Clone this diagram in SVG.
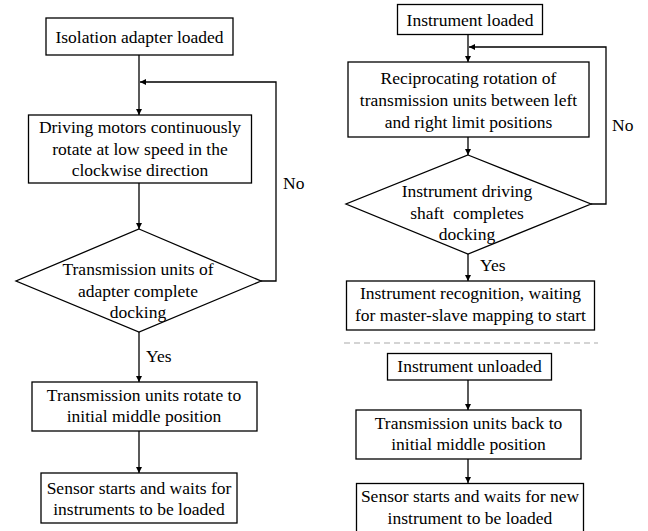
<svg xmlns="http://www.w3.org/2000/svg" width="648" height="531" viewBox="0 0 648 531">
<defs>
<marker id="ah" viewBox="0 0 10 10" refX="10" refY="5" markerWidth="6" markerHeight="6" markerUnits="userSpaceOnUse" orient="auto">
<path d="M0,0 L10,5 L0,10 Z" fill="#000"/>
</marker>
<style>
.box{fill:#fff;stroke:#000;stroke-width:1.3}
.t{font-family:'Liberation Serif','Times New Roman',serif;font-size:17.5px;fill:#000;text-anchor:middle}
.lbl{font-family:'Liberation Serif','Times New Roman',serif;font-size:17.5px;fill:#000}
.ca{fill:none;stroke:#000;stroke-width:1.3;marker-end:url(#ah)}
</style>
</defs>
<rect width="648" height="531" fill="#fff"/>
<g id="connectors">
<line class="ca" x1="139" y1="55" x2="139" y2="115"/>
<polyline class="ca" points="261,281 276,281 276,82 140,82"/>
<line class="ca" x1="139" y1="183" x2="139" y2="229"/>
<line class="ca" x1="139" y1="332" x2="139" y2="382"/>
<line class="ca" x1="139" y1="431" x2="139" y2="473"/>
<line class="ca" x1="468" y1="34" x2="468" y2="62"/>
<polyline class="ca" points="591,204 606,204 606,47 469,47"/>
<line class="ca" x1="468" y1="137" x2="468" y2="155"/>
<line class="ca" x1="468" y1="254" x2="468" y2="281"/>
<line class="ca" x1="468" y1="380" x2="468" y2="410"/>
<line class="ca" x1="468" y1="459" x2="468" y2="483"/>
<line x1="344" y1="343" x2="598" y2="343" stroke="#aaa" stroke-width="1.2" stroke-dasharray="6,4"/>
<text class="lbl" x="283" y="189">No</text>
<text class="lbl" x="146" y="362">Yes</text>
<text class="lbl" x="612" y="131">No</text>
<text class="lbl" x="480" y="271">Yes</text>
</g>
<g id="n1">
<rect class="box" x="46" y="18" width="187" height="37"/>
<text class="t" x="139.5" y="43">Isolation adapter loaded</text>
</g>
<g id="n2">
<rect class="box" x="28.5" y="115" width="223" height="68"/>
<text class="t" x="140" y="133">Driving motors continuously</text>
<text class="t" x="140" y="155">rotate at low speed in the</text>
<text class="t" x="140" y="176">clockwise direction</text>
</g>
<g id="d1">
<polygon class="box" points="139,229 261,281 139,332 16,281"/>
<text class="t" x="138" y="275">Transmission units of</text>
<text class="t" x="138" y="297">adapter complete</text>
<text class="t" x="138" y="318">docking</text>
</g>
<g id="n3">
<rect class="box" x="32" y="382" width="225" height="49"/>
<text class="t" x="144" y="401">Transmission units rotate to</text>
<text class="t" x="144" y="422">initial middle position</text>
</g>
<g id="n4">
<rect class="box" x="41" y="473" width="196" height="50"/>
<text class="t" x="139" y="494">Sensor starts and waits for</text>
<text class="t" x="139" y="515">instruments to be loaded</text>
</g>
<g id="r1">
<rect class="box" x="397.5" y="4.5" width="145" height="30"/>
<text class="t" x="470" y="26">Instrument loaded</text>
</g>
<g id="r2">
<rect class="box" x="348" y="62" width="241" height="75"/>
<text class="t" x="468.5" y="84">Reciprocating rotation of</text>
<text class="t" x="468.5" y="106">transmission units between left</text>
<text class="t" x="468.5" y="128">and right limit positions</text>
</g>
<g id="rd">
<polygon class="box" points="468,155 591,204 468,254 346,204"/>
<text class="t" x="467" y="197">Instrument driving</text>
<text class="t" x="467" y="219" xml:space="preserve">shaft  completes</text>
<text class="t" x="467" y="240">docking</text>
</g>
<g id="r3">
<rect class="box" x="346.5" y="281" width="248" height="49"/>
<text class="t" x="470.5" y="299">Instrument recognition, waiting</text>
<text class="t" x="470.5" y="321">for master-slave mapping to start</text>
</g>
<g id="r4">
<rect class="box" x="387.5" y="353.5" width="164" height="26.5"/>
<text class="t" x="469.5" y="372">Instrument unloaded</text>
</g>
<g id="r5">
<rect class="box" x="356" y="410" width="225" height="49"/>
<text class="t" x="468.5" y="429">Transmission units back to</text>
<text class="t" x="468.5" y="450">initial middle position</text>
</g>
<g id="r6">
<rect class="box" x="356.5" y="483.5" width="227" height="55"/>
<text class="t" x="470" y="502">Sensor starts and waits for new</text>
<text class="t" x="470" y="524">instrument to be loaded</text>
</g>
</svg>
